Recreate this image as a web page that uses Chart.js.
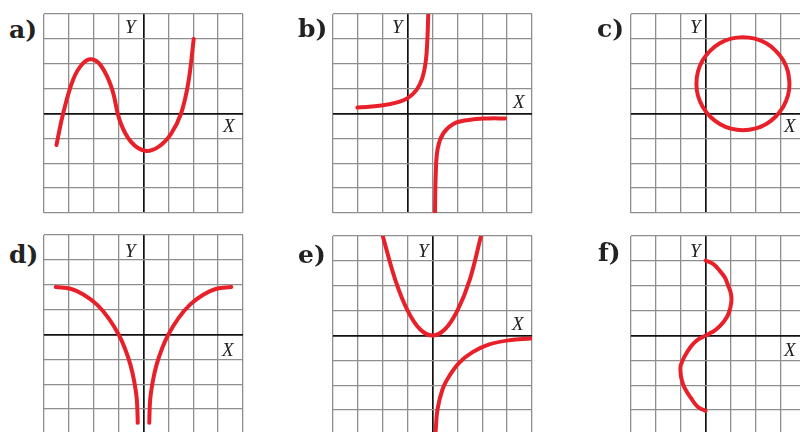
<!DOCTYPE html>
<html>
<head>
<meta charset="utf-8">
<script src="https://cdn.jsdelivr.net/npm/chart.js@4/dist/chart.umd.min.js"></script>
<style>
  body { margin: 0; width: 800px; height: 432px; overflow: hidden; background: #fff; position: relative; }
  .panel { position: absolute; }
  .tag { position: absolute; font-family: "DejaVu Serif", serif; font-weight: bold; font-size: 25px; line-height: 25px; color: #222; }
  .ax { position: absolute; font-family: "Liberation Serif", serif; font-style: italic; font-size: 19px; line-height: 19px; color: #222; }
</style>
</head>
<body>

<script>
// curve a) (units = cells)
const aX = [-3.5, -3.23, -2.83, -2.45, -2.09, -1.7, -1.28, -0.94, -0.5, 0.07, 0.6, 1.1, 1.51, 1.8, 2.02];
const aY = [-1.27, 0, 1.36, 2.0, 2.18, 1.91, 1.03, -0.32, -1.14, -1.5, -1.34, -0.83, 0, 1.23, 3.0];

// curve b), two branches
const bX1 = [-2.02, -1.05, -0.38, 0, 0.36, 0.59, 0.73, 0.79, 0.83];
const bY1 = [0.24, 0.32, 0.46, 0.62, 0.95, 1.42, 2.1, 2.9, 4.0];
const bX2 = [1.1, 1.13, 1.21, 1.44, 1.84, 2.45, 3.25, 3.92];
const bY2 = [-4.02, -2.47, -1.4, -0.79, -0.42, -0.26, -0.2, -0.2];

// curve c), closed loop
const cX = [3.37, 3.31, 3.12, 2.82, 2.44, 1.98, 1.5, 1.02, 0.57, 0.18, -0.12, -0.31, -0.37, -0.31, -0.12, 0.18, 0.57, 1.02, 1.5, 1.98, 2.44, 2.82, 3.12, 3.31, 3.37, 3.31];
const cY = [1.2, 1.68, 2.14, 2.52, 2.82, 3.01, 3.07, 3.01, 2.82, 2.52, 2.14, 1.68, 1.2, 0.72, 0.27, -0.12, -0.42, -0.61, -0.67, -0.61, -0.42, -0.12, 0.27, 0.72, 1.2, 1.68];

// curve d), two branches
const dX1 = [-3.53, -2.93, -2.4, -1.87, -1.4, -1.0, -0.75, -0.53, -0.38, -0.27, -0.23];
const dY1 = [1.91, 1.84, 1.6, 1.2, 0.65, 0, -0.55, -1.2, -1.85, -2.6, -3.55];
const dX2 = [0.23, 0.27, 0.38, 0.53, 0.75, 1.0, 1.4, 1.87, 2.4, 2.93, 3.53];
const dY2 = [-3.55, -2.6, -1.85, -1.2, -0.55, 0, 0.65, 1.2, 1.6, 1.84, 1.91];

// curve e), parabola + lower branch
const eX1 = [-2, -1.5, -1, -0.5, 0, 0.5, 1, 1.5, 1.95];
const eY1 = [4, 2.25, 1, 0.25, 0, 0.25, 1, 2.25, 4];
const eX2 = [0.1, 0.13, 0.2, 0.4, 0.67, 1.07, 1.61, 2.28, 3.09, 3.96];
const eY2 = [-4.1, -3.79, -2.98, -2.17, -1.64, -1.1, -0.67, -0.36, -0.19, -0.12];

// curve f)
const fX = [0, 0.3, 0.57, 0.78, 0.91, 1.0, 1.04, 1.0, 0.91, 0.76, 0.57, 0.36, 0.16, 0, -0.16, -0.38, -0.6, -0.85, -1.0, -1.01, -0.97, -0.85, -0.6, -0.32, 0];
const fY = [3.01, 2.88, 2.6, 2.32, 1.99, 1.75, 1.46, 1.15, 0.85, 0.6, 0.38, 0.2, 0.08, 0, -0.08, -0.22, -0.45, -0.85, -1.2, -1.45, -1.75, -2.1, -2.5, -2.86, -3.03];

const GRID = 199;
const PAD = 3;
const RED = '#e8202a';

function toPoints(xs, ys) {
    return xs.map((x, i) => ({ x: x, y: ys[i] }));
}

function makePanel(left, top, xMin, xMax, curves) {
    const box = document.createElement('div');
    box.className = 'panel';
    box.style.left = (left - PAD) + 'px';
    box.style.top = (top - PAD) + 'px';
    const cv = document.createElement('canvas');
    cv.width = GRID + 2 * PAD;
    cv.height = GRID + 2 * PAD;
    box.appendChild(cv);
    document.body.appendChild(box);

    const axis = (min, max) => ({
        type: 'linear',
        min: min,
        max: max,
        ticks: { display: false, stepSize: 1 },
        border: { display: false },
        grid: {
            drawTicks: false,
            color: c => c.tick.value === 0 ? '#111' : '#8e8e8e',
            lineWidth: c => c.tick.value === 0 ? 1.7 : 1.3
        }
    });

    new Chart(cv, {
        type: 'scatter',
        data: {
            datasets: curves.map(pts => ({
                data: pts,
                showLine: true,
                borderColor: RED,
                borderWidth: 4,
                pointRadius: 0,
                tension: 0.4,
                borderCapStyle: 'round',
                borderJoinStyle: 'round'
            }))
        },
        options: {
            responsive: false,
            animation: false,
            layout: { padding: PAD },
            scales: {
                x: axis(xMin, xMax),
                y: axis(-4, 4)
            },
            plugins: {
                legend: { display: false },
                tooltip: { enabled: false }
            }
        }
    });
}

function addText(cls, text, left, top) {
    const d = document.createElement('div');
    d.className = cls;
    d.textContent = text;
    d.style.left = left + 'px';
    d.style.top = top + 'px';
    document.body.appendChild(d);
}

makePanel(44, 14, -4, 4, [toPoints(aX, aY)]);
makePanel(333, 14, -3, 5, [toPoints(bX1, bY1), toPoints(bX2, bY2)]);
makePanel(631, 14, -3, 5, [toPoints(cX, cY)]);
makePanel(44, 235, -4, 4, [toPoints(dX1, dY1), toPoints(dX2, dY2)]);
makePanel(333, 236, -4, 4, [toPoints(eX1, eY1), toPoints(eX2, eY2)]);
makePanel(631, 236, -3, 5, [toPoints(fX, fY)]);

addText('tag', 'a)', 9, 17);
addText('tag', 'b)', 298, 16);
addText('tag', 'c)', 597, 16);
addText('tag', 'd)', 9, 242);
addText('tag', 'e)', 298, 242);
addText('tag', 'f)', 598, 240);

addText('ax', 'Y', 125, 17);
addText('ax', 'X', 223, 116);
addText('ax', 'Y', 392, 17);
addText('ax', 'X', 513, 92);
addText('ax', 'Y', 690, 17);
addText('ax', 'X', 784, 116);
addText('ax', 'Y', 125, 241);
addText('ax', 'X', 222, 340);
addText('ax', 'Y', 418, 241);
addText('ax', 'X', 512, 314);
addText('ax', 'Y', 690, 241);
addText('ax', 'X', 784, 340);
</script>
</body>
</html>
